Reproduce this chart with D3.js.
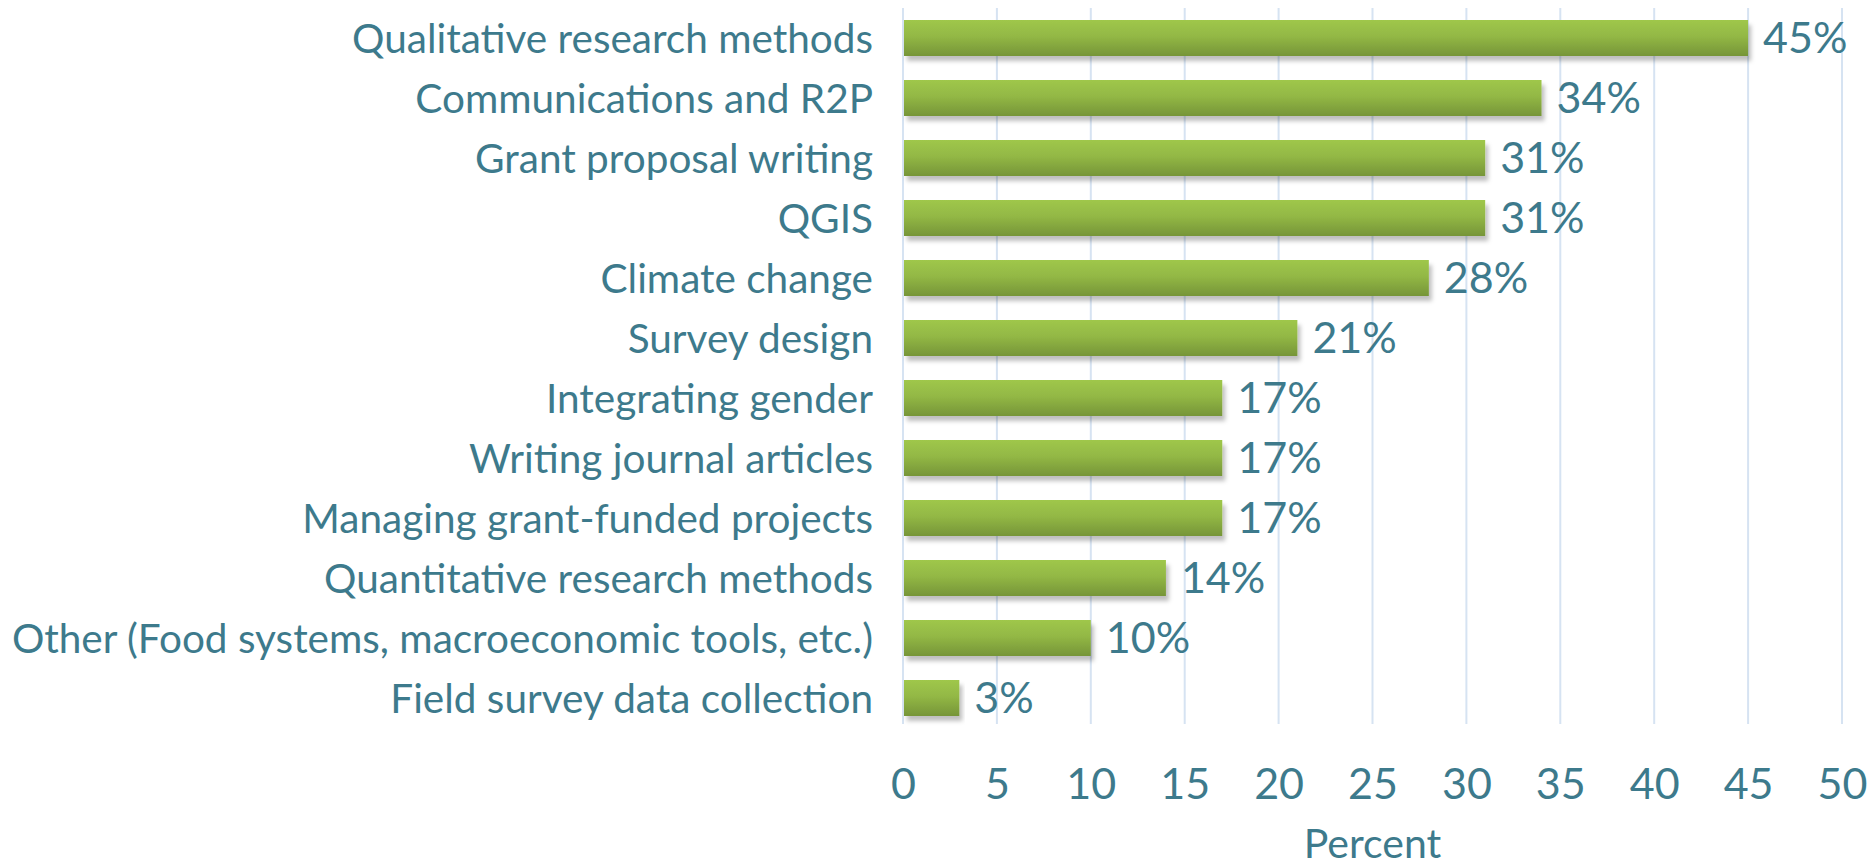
<!DOCTYPE html>
<html>
<head>
<meta charset="utf-8">
<script src="https://cdn.jsdelivr.net/npm/d3@7"></script>
<style>
    body { margin: 0; background: #fff; }
    text { font-family: Lato, "Open Sans", sans-serif; fill: #3d7a8c; }
</style>
</head>
<body>
<div id="chart"></div>
<script>
var categories = [
    "Qualitative research methods",
    "Communications and R2P",
    "Grant proposal writing",
    "QGIS",
    "Climate change",
    "Survey design",
    "Integrating gender",
    "Writing journal articles",
    "Managing grant-funded projects",
    "Quantitative research methods",
    "Other (Food systems, macroeconomic tools, etc.)",
    "Field survey data collection"
];
var percents = [45, 34, 31, 31, 28, 21, 17, 17, 17, 14, 10, 3];
var tickValues = [0, 5, 10, 15, 20, 25, 30, 35, 40, 45, 50];
var axisTitle = "Percent";

function init(){
    var w = 1875;
    var h = 867;
    var left = 903, right = 1842, top = 8, bottom = 728;

    var svg = d3.select("#chart")
                .append("svg")
                .attr("width", w)
                .attr("height", h);

    var defs = svg.append("defs");
    var grad = defs.append("linearGradient")
        .attr("id", "barGrad")
        .attr("x1", 0).attr("y1", 0).attr("x2", 0).attr("y2", 1);
    grad.append("stop").attr("offset", "0%").attr("stop-color", "#9fc74b");
    grad.append("stop").attr("offset", "45%").attr("stop-color", "#93b845");
    grad.append("stop").attr("offset", "100%").attr("stop-color", "#769538");

    var shadow = defs.append("filter")
        .attr("id", "shadow")
        .attr("x", "-5%").attr("y", "-20%")
        .attr("width", "115%").attr("height", "160%");
    shadow.append("feDropShadow")
        .attr("dx", 3).attr("dy", 5)
        .attr("stdDeviation", 2)
        .attr("flood-color", "#000")
        .attr("flood-opacity", 0.25);

    var x = d3.scaleLinear().domain([0, 50]).range([left, right]);
    var y = d3.scaleBand()
        .domain(categories)
        .range([top, bottom])
        .paddingInner(0.4)
        .paddingOuter(0.2);

    // gridlines
    svg.append("g")
        .selectAll("line")
        .data(tickValues)
        .enter()
        .append("line")
        .attr("x1", function(d){ return x(d); })
        .attr("x2", function(d){ return x(d); })
        .attr("y1", top)
        .attr("y2", bottom - 4)
        .attr("stroke", "#d6e3f2")
        .attr("stroke-width", 2);

    // bars
    svg.append("g")
        .selectAll("rect")
        .data(percents)
        .enter()
        .append("rect")
        .attr("x", x(0) + 1)
        .attr("y", function(d, i){ return y(categories[i]); })
        .attr("width", function(d){ return x(d) - x(0) - 1; })
        .attr("height", y.bandwidth())
        .attr("fill", "url(#barGrad)")
        .attr("filter", "url(#shadow)");

    // value labels
    svg.append("g")
        .selectAll("text")
        .data(percents)
        .enter()
        .append("text")
        .attr("x", function(d){ return x(d) + 15; })
        .attr("y", function(d, i){ return y(categories[i]) + y.bandwidth() / 2; })
        .attr("dy", "0.36em")
        .attr("font-size", "43px")
        .text(function(d){ return d + "%"; });

    // category labels
    var yAxis = d3.axisLeft(y).tickSize(0).tickPadding(0);
    var gy = svg.append("g")
        .attr("transform", "translate(" + 873 + ",0)")
        .call(yAxis);
    gy.select(".domain").remove();
    gy.selectAll("text")
        .attr("font-size", "40.5px")
        .attr("fill", "#3d7a8c")
        .attr("dy", "0.36em");

    // x tick labels
    var xAxis = d3.axisBottom(x).tickValues(tickValues).tickSize(0).tickPadding(0);
    var gx = svg.append("g")
        .attr("transform", "translate(0," + 799 + ")")
        .call(xAxis);
    gx.select(".domain").remove();
    gx.selectAll("text")
        .attr("font-size", "43px")
        .attr("fill", "#3d7a8c")
        .attr("dy", 0);

    svg.append("text")
        .attr("x", (left + right) / 2)
        .attr("y", 858)
        .attr("text-anchor", "middle")
        .attr("font-size", "41px")
        .text(axisTitle);
}
window.onload = init;
</script>
</body>
</html>
